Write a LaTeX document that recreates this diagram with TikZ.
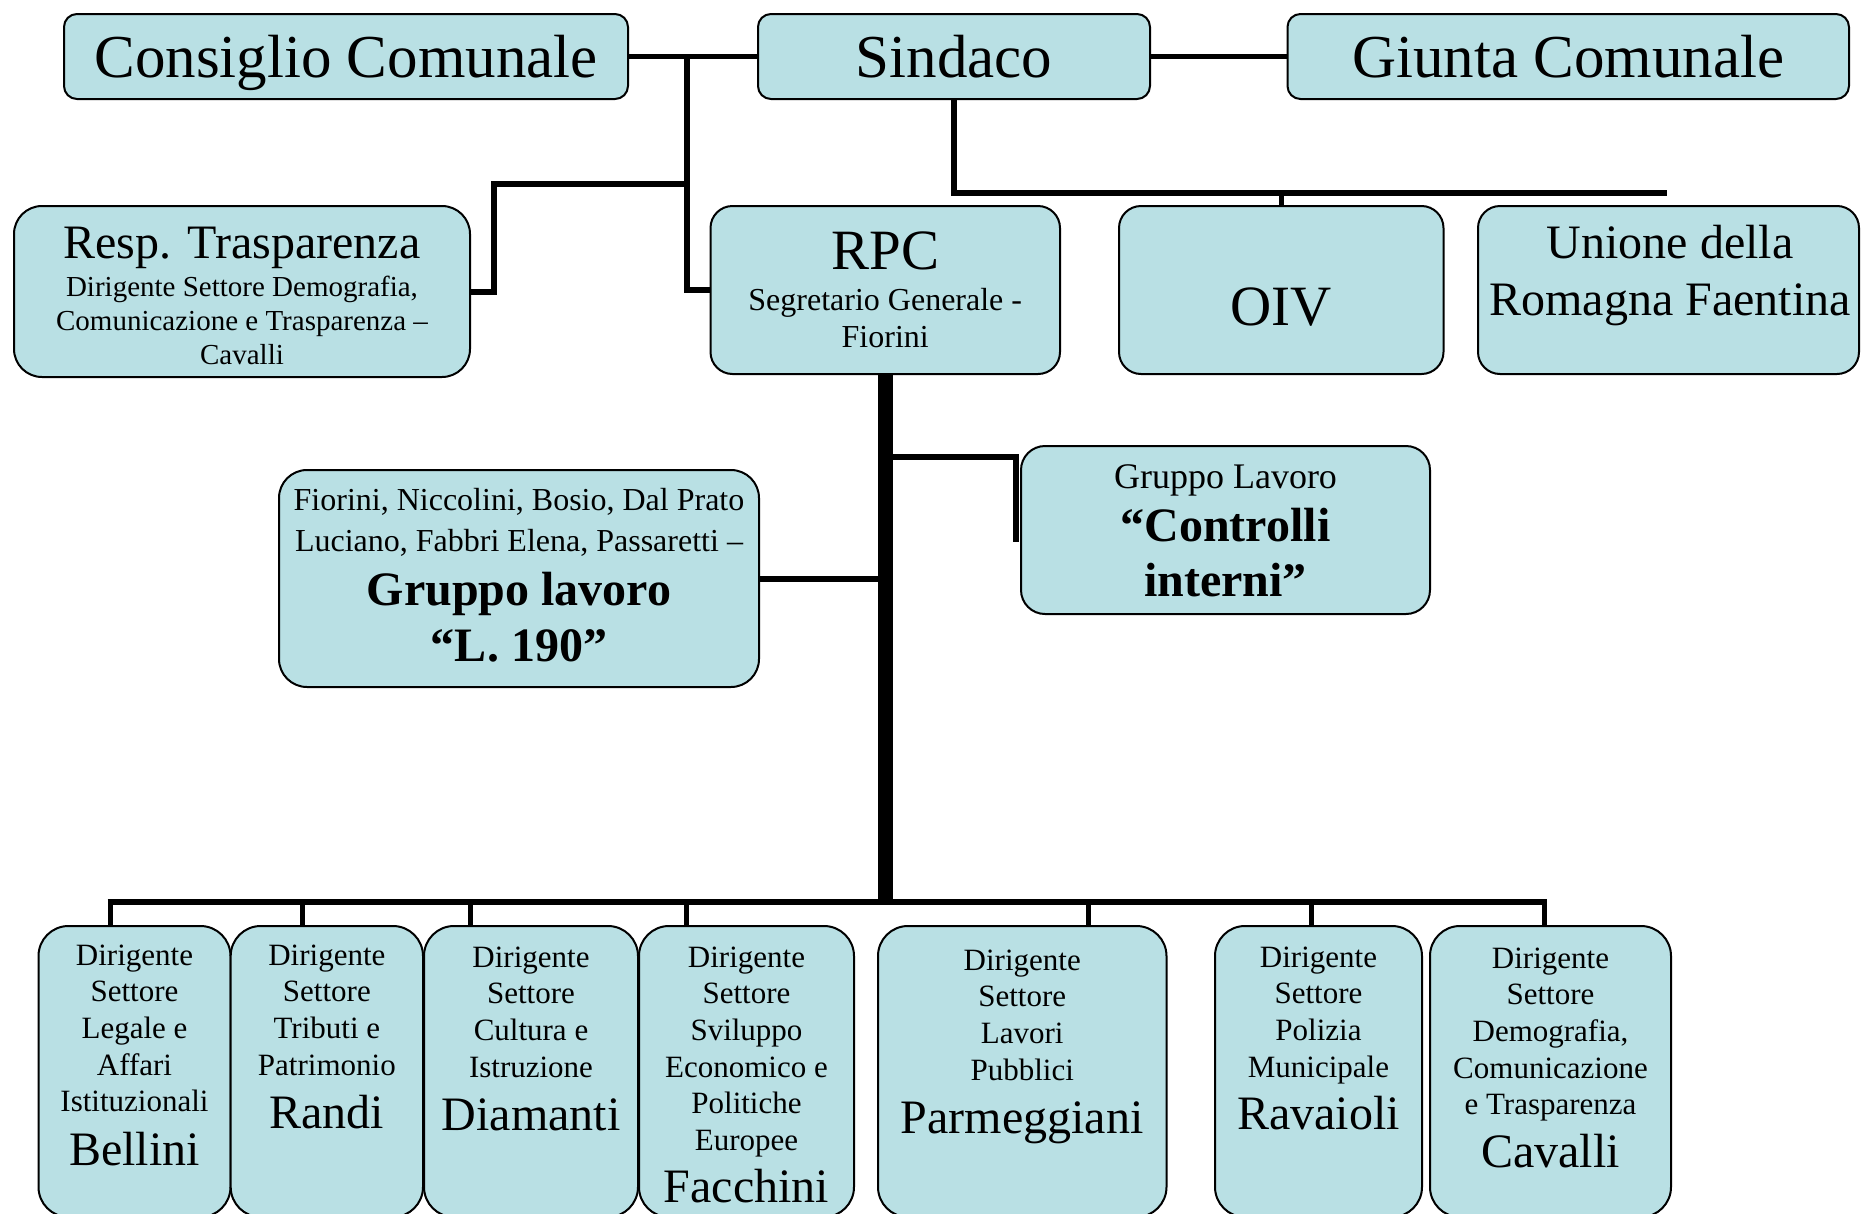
\documentclass[tikz,border=0pt]{standalone}
\usepackage{fontspec}
\setmainfont{Liberation Serif}
\definecolor{boxfill}{HTML}{B9E0E4}
\tikzset{
  box/.style={draw=black, line width=2pt, fill=boxfill, inner sep=0pt, anchor=center},
  conn/.style={line width=6pt, line cap=butt},
  tconn/.style={line width=5pt, line cap=butt},
  trunk/.style={line width=15pt, line cap=butt},
  ttl/.style={font=\fontsize{61pt}{68pt}\selectfont},
  big/.style={font=\fontsize{57pt}{64pt}\selectfont},
  mid/.style={font=\fontsize{48pt}{56pt}\selectfont},
  midb/.style={font=\fontsize{48pt}{56pt}\selectfont\bfseries},
  sm/.style={font=\fontsize{31pt}{37pt}\selectfont},
  smr/.style={font=\fontsize{29pt}{34pt}\selectfont},
  smg/.style={font=\fontsize{32pt}{38pt}\selectfont},
  smc/.style={font=\fontsize{36pt}{42pt}\selectfont},
  txt/.style={anchor=base, inner sep=0pt},
}
% name, x, first baseline, spacing, style, items
\newcommand\txtlines[6]{%
  \foreach \lineitem [count=\lineno from 0] in {#6}{%
    \node[txt, #5] (#1-\lineno) at (#2, {#3+\lineno*#4}) {\lineitem};}}
\begin{document}
\begin{tikzpicture}[x=1pt, y=-1pt]
\fill[white] (0,0) rectangle (1861,1213);
\useasboundingbox (0,0) rectangle (1861,1213);

% ---------- top row ----------
\node[box, rounded corners=13pt, minimum width=564pt, minimum height=85pt] (cons) at (346,56.5) {};
\node[box, rounded corners=13pt, minimum width=392pt, minimum height=85pt] (sind) at (954,56.5) {};
\node[box, rounded corners=13pt, minimum width=561.5pt, minimum height=85pt] (giun) at (1568.25,56.5) {};
\node[txt, ttl] (tcons) at (346,77) {Consiglio Comunale};
\node[txt, ttl] (tsind) at (954,77) {Sindaco};
\node[txt, ttl] (tgiun) at (1568.25,77) {Giunta Comunale};

% ---------- second row ----------
\node[box, rounded corners=28pt, minimum width=456pt, minimum height=171pt] (resp) at (242,291.5) {};
\node[box, rounded corners=22pt, minimum width=349.5pt, minimum height=168pt] (rpc) at (885.25,290) {};
\node[box, rounded corners=22pt, minimum width=324.5pt, minimum height=168pt] (oiv) at (1281.25,290) {};
\node[box, rounded corners=22pt, minimum width=381pt, minimum height=168pt] (uni) at (1668.5,290) {};

\node[txt, mid] (tresp) at (242,258) {Resp. Trasparenza};
\txtlines{resp}{242}{296}{34}{smr}{{Dirigente Settore Demografia,},{Comunicazione e Trasparenza –},{Cavalli}}
\node[txt, big] (trpc) at (885.25,269) {RPC};
\txtlines{rpc}{885.25}{310}{37}{smg}{{Segretario Generale -},{Fiorini}}
\node[txt, big] (toiv) at (1281.25,325) {OIV};
\txtlines{uni}{1670}{258}{57}{mid}{{Unione della},{Romagna Faentina}}

% ---------- working groups ----------
\node[box, rounded corners=28pt, minimum width=480pt, minimum height=217pt] (l190) at (519,578.5) {};
\txtlines{l190a}{519}{510}{41.7}{smg}{{Fiorini, Niccolini, Bosio, Dal Prato},{Luciano, Fabbri Elena, Passaretti –}}
\txtlines{l190b}{519}{605}{56.7}{midb}{{Gruppo lavoro},{“L. 190”}}

\node[box, rounded corners=24pt, minimum width=409pt, minimum height=168pt] (ctrl) at (1225.5,530) {};
\node[txt, smc] (tctrl) at (1225.5,488) {Gruppo Lavoro};
\txtlines{ctrlb}{1225.5}{541.7}{55}{midb}{{“Controlli},{interni”}}

% ---------- bottom row ----------
\node[box, rounded corners=30pt, minimum width=192pt, minimum height=291pt] (bel) at (134.5,1071.5) {};
\node[box, rounded corners=30pt, minimum width=192.3pt, minimum height=291pt] (ran) at (326.85,1071.5) {};
\node[box, rounded corners=30pt, minimum width=214pt, minimum height=291pt] (dia) at (531,1071.5) {};
\node[box, rounded corners=30pt, minimum width=215pt, minimum height=291pt] (fac) at (746.5,1071.5) {};
\node[box, rounded corners=30pt, minimum width=288.5pt, minimum height=291pt] (par) at (1022.25,1071.5) {};
\node[box, rounded corners=30pt, minimum width=207pt, minimum height=291pt] (rav) at (1318.5,1071.5) {};
\node[box, rounded corners=30pt, minimum width=241pt, minimum height=291pt] (cav) at (1550.5,1071.5) {};

\txtlines{bel}{134.5}{965}{36.7}{sm}{Dirigente,Settore,Legale e,Affari,Istituzionali}
\node[txt, mid] (nbel) at (134.5,1165) {Bellini};
\txtlines{ran}{326.85}{965}{36.7}{sm}{Dirigente,Settore,Tributi e,Patrimonio}
\node[txt, mid] (nran) at (326.85,1128) {Randi};
\txtlines{dia}{531}{967}{36.7}{sm}{Dirigente,Settore,Cultura e,Istruzione}
\node[txt, mid] (ndia) at (531,1130) {Diamanti};
\txtlines{fac}{746.5}{967}{36.7}{sm}{Dirigente,Settore,Sviluppo,Economico e,Politiche,Europee}
\node[txt, mid] (nfac) at (746.5,1202) {Facchini};
\txtlines{par}{1022.25}{970}{36.7}{sm}{Dirigente,Settore,Lavori,Pubblici}
\node[txt, mid] (npar) at (1022.25,1133) {Parmeggiani};
\txtlines{rav}{1318.5}{967}{36.7}{sm}{Dirigente,Settore,Polizia,Municipale}
\node[txt, mid] (nrav) at (1318.5,1129) {Ravaioli};
\txtlines{cav}{1550.5}{968}{36.7}{sm}{Dirigente,Settore,{Demografia,},Comunicazione,e Trasparenza}
\node[txt, mid] (ncav) at (1550.5,1167) {Cavalli};

% ---------- connectors ----------
\draw[tconn] (cons.east) -- (sind.west);
\draw[tconn] (sind.east) -- (giun.west);

\coordinate (jc) at (687,58);
\coordinate (jr) at (687,184);
\coordinate (jr2) at (493.5,184);
\draw[conn] (jc) |- (rpc.west);
\draw[conn] (jr) -- (jr2) |- (resp.east);

\coordinate (js) at (954,193);
\coordinate (jsend) at (1667,193);
\draw[conn] (sind.south) -- (js) -- (jsend);
\draw[tconn] (oiv.north |- js) -- (oiv.north);

\coordinate (bus) at (885.25,902);
\draw[trunk] (rpc.south) -- (bus);
\draw[conn] (l190.east) -- (l190.east -| rpc.south);
\coordinate (cc1) at (1016,457);
\coordinate (cc2) at (1016,542);
\draw[conn] (rpc.south |- cc1) -- (cc1) -- (cc2);

\coordinate (busL) at (107.5,902);
\coordinate (busR) at (1546.5,902);
\draw[conn] (busL) -- (busR);
\coordinate (t1) at (110,902);
\coordinate (t2) at (302.5,902);
\coordinate (t3) at (470,902);
\coordinate (t4) at (686,902);
\coordinate (t5) at (1088,902);
\coordinate (t6) at (1311,902);
\coordinate (t7) at (1544,902);
\draw[tconn] (t1) -- (t1 |- bel.north);
\draw[tconn] (t2) -- (t2 |- ran.north);
\draw[tconn] (t3) -- (t3 |- dia.north);
\draw[tconn] (t4) -- (t4 |- fac.north);
\draw[tconn] (t5) -- (t5 |- par.north);
\draw[tconn] (t6) -- (t6 |- rav.north);
\draw[tconn] (t7) -- (t7 |- cav.north);
\end{tikzpicture}
\end{document}
